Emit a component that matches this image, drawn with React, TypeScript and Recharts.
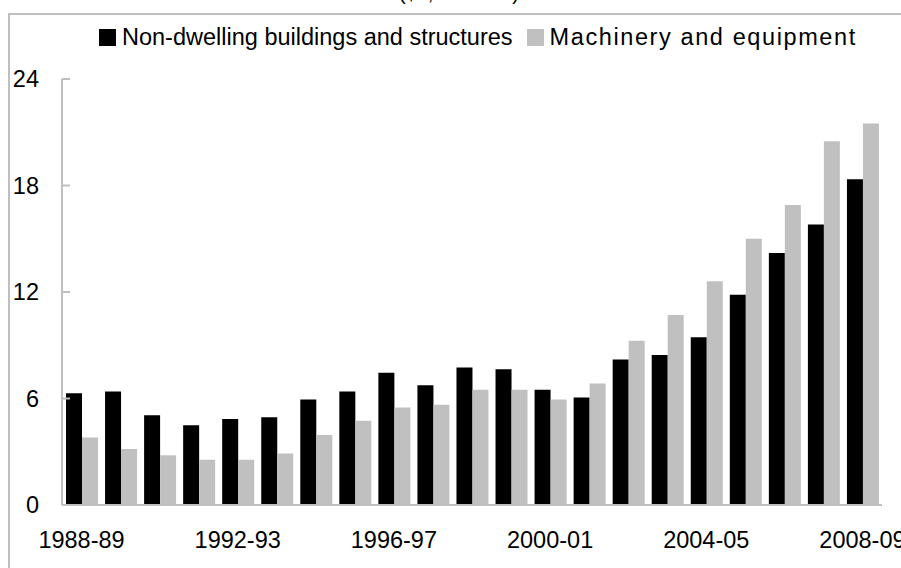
import { BarChart, Bar, XAxis, YAxis } from "recharts";

const years = [
  "1988-89", "1989-90", "1990-91", "1991-92", "1992-93", "1993-94", "1994-95",
  "1995-96", "1996-97", "1997-98", "1998-99", "1999-00", "2000-01", "2001-02",
  "2002-03", "2003-04", "2004-05", "2005-06", "2006-07", "2007-08", "2008-09",
];
const nonDwelling = [
  6.3, 6.4, 5.05, 4.5, 4.85, 4.95, 5.95, 6.4, 7.45, 6.75, 7.75,
  7.65, 6.5, 6.05, 8.2, 8.45, 9.45, 11.85, 14.2, 15.8, 18.35,
];
const machinery = [
  3.8, 3.15, 2.8, 2.55, 2.55, 2.9, 3.95, 4.75, 5.5, 5.65, 6.5,
  6.5, 5.95, 6.85, 9.25, 10.7, 12.6, 15.0, 16.9, 20.5, 21.5,
];
const yTicks = [0, 6, 12, 18, 24];

const data = years.map((year, i) => ({
  year,
  nonDwelling: nonDwelling[i],
  machinery: machinery[i],
}));

const FONT = "'Liberation Sans', Arial, sans-serif";
const GRID = "#bfbfbf";

// legend drawn in HTML so it doesn't push the plot area down
const LegendBox = () => (
  <div style={{ position: "absolute", left: 99, top: 24, height: 27, display: "flex", alignItems: "center", fontFamily: FONT, fontSize: 23.5, color: "#000", whiteSpace: "nowrap" }}>
    <span style={{ width: 17, height: 17, background: "#000", marginRight: 6 }} />
    <span>Non-dwelling buildings and structures</span>
    <span style={{ width: 17, height: 17, background: "#c0c0c0", marginLeft: 14, marginRight: 6 }} />
    <span style={{ letterSpacing: 1.6 }}>Machinery and equipment</span>
  </div>
);

export default function App() {
  return (
    <div style={{ position: "absolute", left: 0, top: 0, width: 901, height: 568, overflow: "hidden", background: "#fff" }}>
      {/* outer frame, runs off the right and bottom edge */}
      <div style={{ position: "absolute", left: 8, top: 13, width: 1000, height: 1000, border: `2px solid ${GRID}` }} />
      <div style={{ position: "absolute", left: 0, top: 0 }}>
        <BarChart width={901} height={568} data={data} margin={{ top: 79, right: 19, bottom: 22, left: 8 }} barCategoryGap={4} barGap={0}>
          <text x={459} y={0} textAnchor="middle" fontFamily={FONT} fontSize={20} fill="#000">($b, 2008-09)</text>
          <XAxis dataKey="year" interval={3} tickLine={false} tickSize={0} tickMargin={26}
            axisLine={{ stroke: GRID, strokeWidth: 2 }} height={41}
            tick={{ fontSize: 23.5, fill: "#000", fontFamily: FONT }} />
          <YAxis domain={[0, 24]} ticks={yTicks} width={54} tickSize={-8} tickMargin={31}
            axisLine={{ stroke: GRID, strokeWidth: 2 }} tickLine={{ stroke: GRID, strokeWidth: 2 }}
            tick={{ fontSize: 23.5, fill: "#000", fontFamily: FONT }} />
          <Bar dataKey="nonDwelling" fill="#000000" isAnimationActive={false} />
          <Bar dataKey="machinery" fill="#c0c0c0" isAnimationActive={false} />
        </BarChart>
      </div>
      <LegendBox />
    </div>
  );
}
